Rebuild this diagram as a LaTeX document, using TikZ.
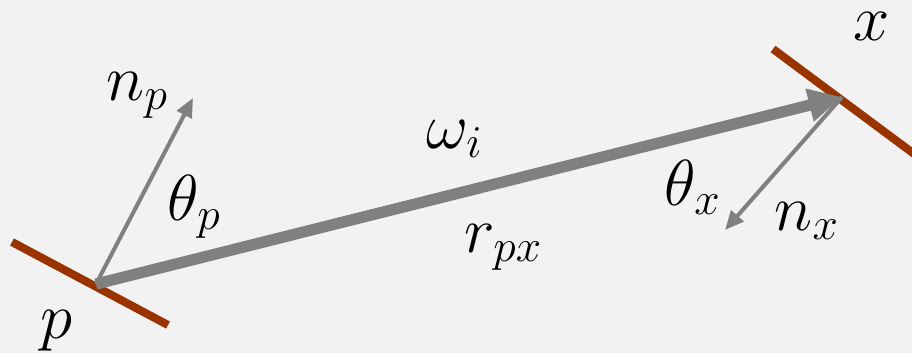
\documentclass[tikz,border=0pt]{standalone}
\usepackage{fix-cm}
\usepackage{tikz}
\usetikzlibrary{arrows.meta, positioning, calc}
\usepackage{amsmath}
\usepackage[svgnames,table]{xcolor}

\definecolor{surfbrown}{RGB}{153,51,0}
\definecolor{raygray}{RGB}{128,128,128}
\definecolor{bggray}{RGB}{242,242,242}

\tikzset{
    surface/.style={line width=2.3pt, surfbrown},
    normal/.style={line width=1.15pt, raygray, -{Triangle[length=5.4pt, width=4.6pt]}},
    ray/.style={line width=3.2pt, raygray, -{Triangle[length=9.5pt, width=9pt]}},
    lbl/.style={font=\fontsize{18.5}{22}\selectfont, inner sep=0pt, anchor=base west}
}

\begin{document}
\begin{tikzpicture}[x=0.01cm, y=-0.01cm]
        % Background
        \fill[bggray] (0,0) rectangle (912,353);
        \useasboundingbox (0,0) rectangle (912,353);
        \clip (0,0) rectangle (912,353);

        % Points
        \coordinate (p) at (96,284);
        \coordinate (x) at (842,97);
        \coordinate (np) at (193,98);
        \coordinate (nx) at (725,230);

        % Surface ends
        \coordinate (ps1) at (12,242);
        \coordinate (ps2) at (168,325);
        \coordinate (xs1) at (773,49);
        \coordinate (xs2) at (925,162);

        % Surfaces
        \draw[surface] (ps1) -- (ps2);
        \draw[surface] (xs1) -- (xs2);

        % Normals
        \draw[normal] (p) -- (np);
        \draw[normal] (x) -- (nx);

        % Ray p -> x
        \draw[ray] (p) -- (x);

        % Labels
        \node[lbl] (lp) at (40,338) {$p$};
        \node[lbl] (lx) at (853,40) {$x$};
        \node[lbl] (lnp) at (106,100) {$n_p$};
        \node[lbl] (lthp) at (167,220) {$\theta_p$};
        \node[lbl] (lw) at (426,148) {$\omega_i$};
        \node[lbl] (lr) at (464,252) {$r_{px}$};
        \node[lbl] (lthx) at (664,205) {$\theta_x$};
        \node[lbl] (lnx) at (774,230) {$n_x$};
    \end{tikzpicture}
\end{document}
